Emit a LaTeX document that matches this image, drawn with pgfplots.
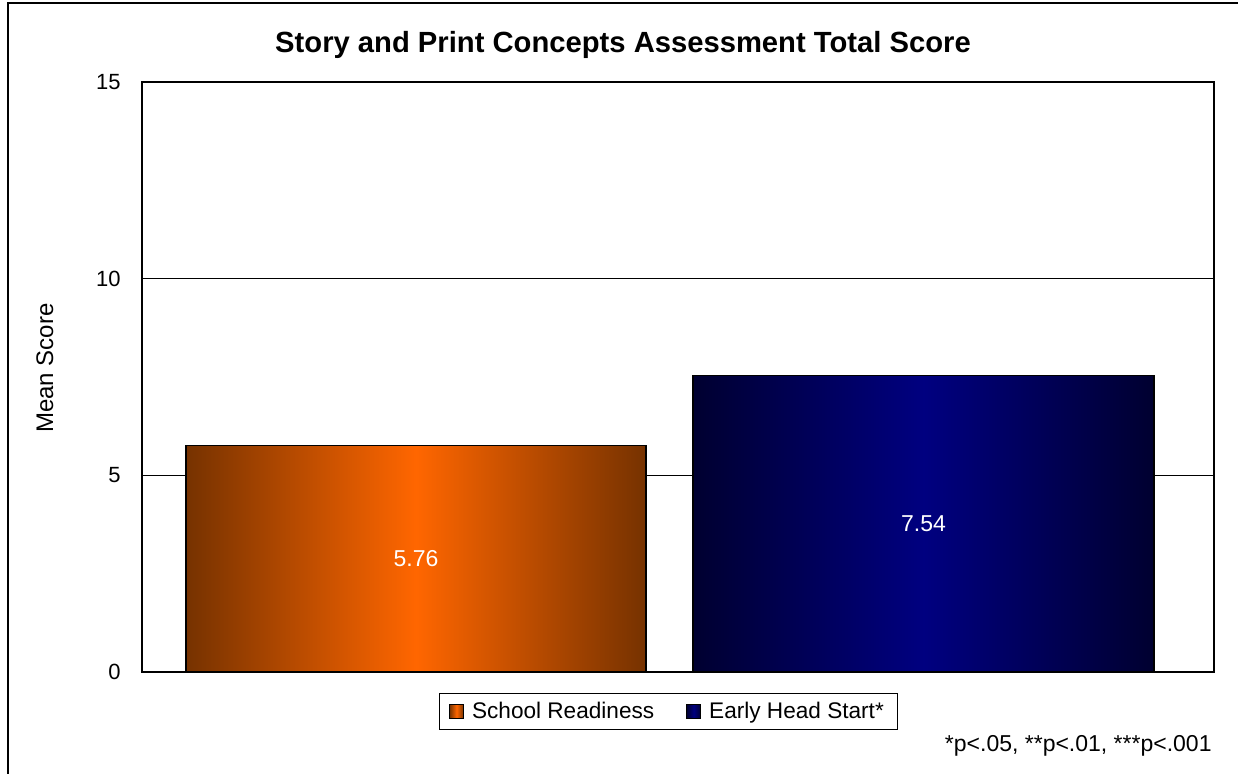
\documentclass[border=0pt]{standalone}
\usepackage{fontspec}
\setmainfont{Liberation Sans}
\usepackage{pgfplots}
\pgfplotsset{compat=1.18}
\definecolor{srEdge}{RGB}{118,50,0}
\definecolor{srMid}{RGB}{255,102,0}
\definecolor{ehsEdge}{RGB}{0,0,48}
\definecolor{ehsMid}{RGB}{0,0,128}

\begin{document}
\begin{tikzpicture}
% page = 1238 x 774 px at 0.5pt per px
\useasboundingbox (0,0) rectangle (619pt,-387pt);
\draw[line width=0.8pt] (4pt,-387pt) -- (4pt,-1.5pt) -- (619pt,-1.5pt);
\begin{axis}[
    at={(71pt,-336pt)}, anchor=south west,
    scale only axis, width=536pt, height=295pt,
    xmin=142, xmax=1214, ymin=0, ymax=15,
    ytick={0,5,10,15}, xtick=\empty,
    ymajorgrids, grid style={black, line width=0.5pt},
    major tick length=0pt,
    axis line style={black, line width=0.6pt},
    /pgf/number format/assume math mode=true,
    tick label style={font=\fontsize{11}{13}\selectfont},
    yticklabel style={inner sep=0pt, xshift=-10.5pt},
    title={Story and Print Concepts Assessment Total Score},
    title style={at={(0.4487,1.0423)}, anchor=center, font=\bfseries\fontsize{14.6}{17}\selectfont},
    ylabel={Mean Score},
    ylabel style={at={(-0.0905,0.515)}, anchor=center, font=\fontsize{12}{14}\selectfont},
    legend columns=2,
    legend style={at={(0.4911,-0.0669)}, anchor=center, draw=black, line width=0.5pt,
        font=\fontsize{11.3}{13}\selectfont, inner xsep=5pt, inner ysep=2pt,
        /tikz/every odd column/.append style={column sep=2pt},
        /tikz/every even column/.append style={column sep=14pt}},
    nodes near coords,
    visualization depends on=y \as \rawy,
    nodes near coords style={shift={(axis direction cs:0,-\rawy/2)}, anchor=center,
        white, font=\fontsize{11.5}{13}\selectfont,
        /pgf/number format/fixed, /pgf/number format/fixed zerofill, /pgf/number format/precision=2},
]
\addplot[ybar, bar width=460, draw=black, line width=0.6pt,
    left color=srEdge, right color=srEdge, middle color=srMid,
    legend image code/.code={\draw[line width=0.5pt] (0pt,-3.5pt) rectangle (7pt,3.5pt);}]
    coordinates {(416,5.76)};
\addlegendentry{School Readiness}
\addplot[ybar, bar width=461, draw=black, line width=0.6pt,
    left color=ehsEdge, right color=ehsEdge, middle color=ehsMid,
    legend image code/.code={\draw[line width=0.5pt] (0pt,-3.5pt) rectangle (7pt,3.5pt);}]
    coordinates {(923.5,7.54)};
\addlegendentry{Early Head Start*}
\end{axis}
\node[anchor=east, font=\fontsize{11.5}{13}\selectfont, inner sep=0pt] at (606pt,-373pt) {*p<.05, **p<.01, ***p<.001};
\end{tikzpicture}
\end{document}
